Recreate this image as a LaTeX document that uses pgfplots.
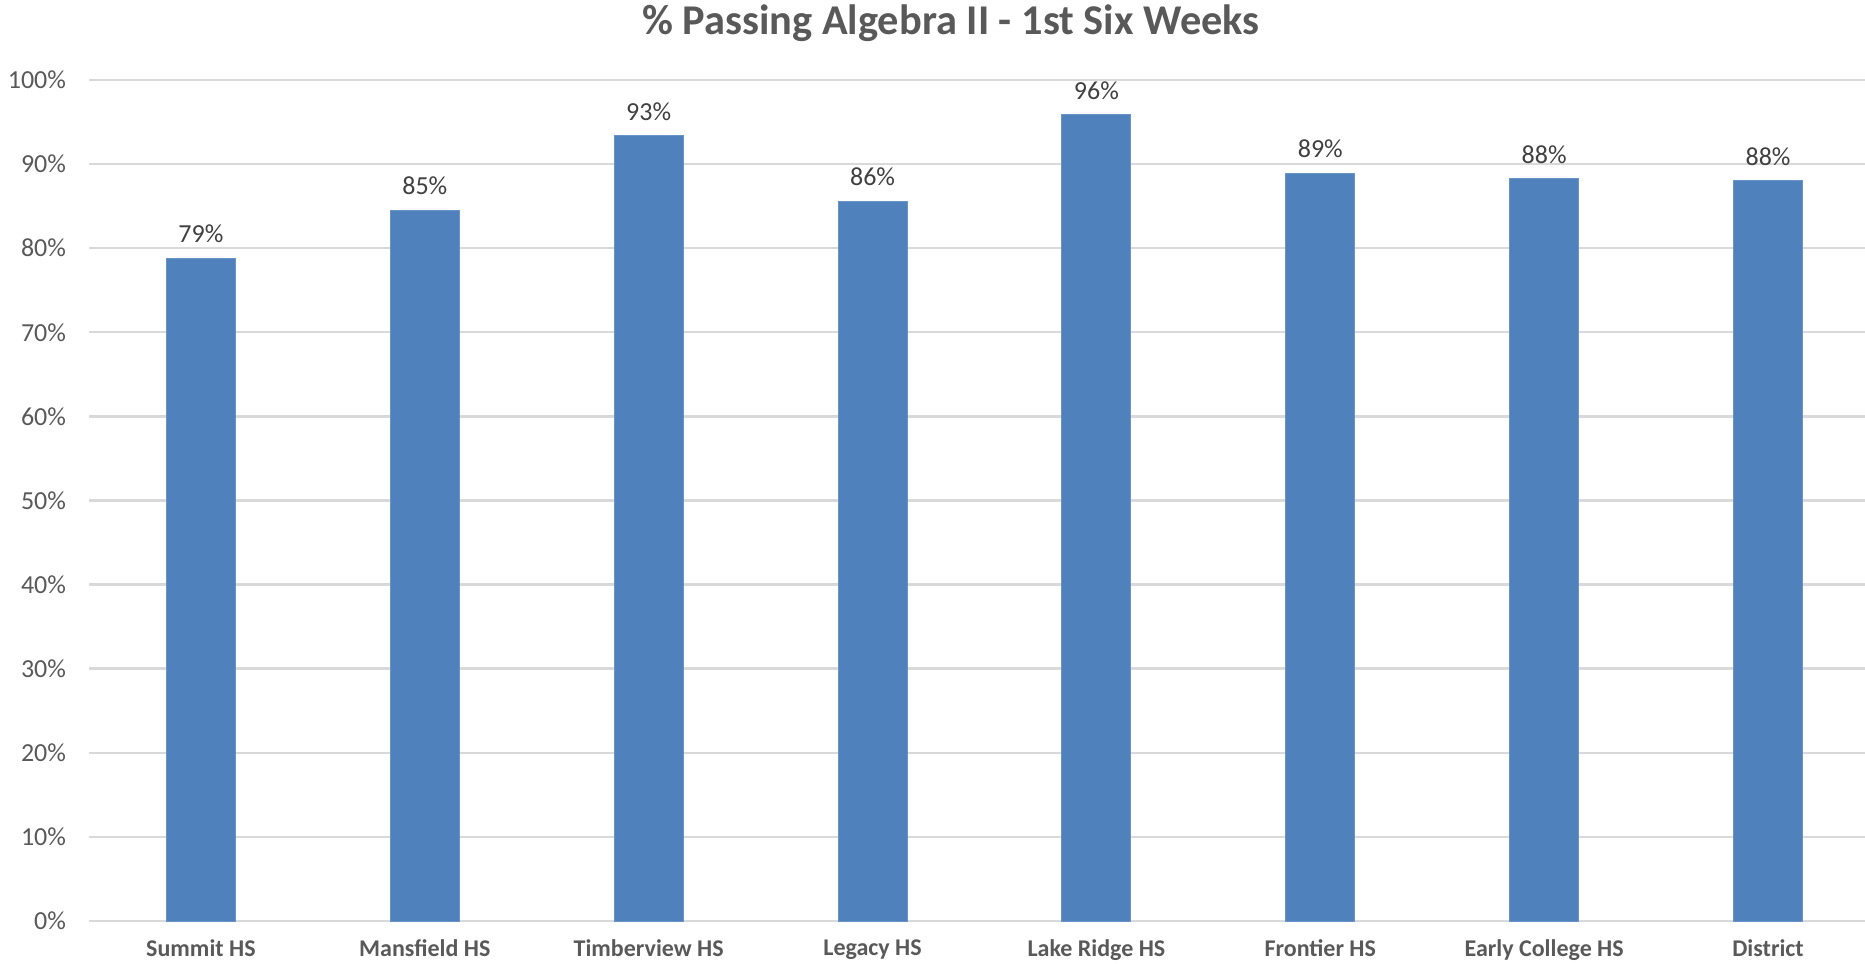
\documentclass[border=0pt]{standalone}
\usepackage{pgfplots}
\pgfplotsset{compat=1.18}
\usepackage{fontspec}
\setmainfont{Carlito}
\definecolor{barblue}{HTML}{4F81BD}
\definecolor{gridgray}{HTML}{D9D9D9}
\definecolor{txtgray}{HTML}{595959}
\definecolor{lblgray}{HTML}{404040}
\begin{document}
\begin{tikzpicture}
\useasboundingbox[clip] (-44.5bp,-21.5bp) rectangle (888bp,460.5bp);
\begin{axis}[
  at={(0,0)}, anchor=south west,
  scale only axis,
  width=895.5bp, height=420.5bp,
  xmin=-0.5, xmax=7.5,
  ymin=0, ymax=100,
  ytick={0,10,...,100},
  xtick={0,...,7},
  xticklabels={Summit HS,Mansfield HS,Timberview HS,Legacy HS,Lake Ridge HS,Frontier HS,Early College HS,District},
  xticklabel style={font=\fontsize{12bp}{14bp}\selectfont\bfseries, text=txtgray, yshift=-6bp},
  yticklabel={\pgfmathprintnumber{\tick}\%},
  yticklabel style={font=\fontsize{13bp}{15bp}\selectfont, text=txtgray, xshift=-8bp},
  /pgf/number format/assume math mode=true,
  major tick length=0pt,
  ymajorgrids,
  grid style={gridgray, line width=1.2bp},
  axis line style={draw=none},
  axis x line*=bottom,
  separate axis lines,
  x axis line style={draw=gridgray, line width=1.2bp},
  ybar, bar width=34.5bp,
  nodes near coords,
  point meta=explicit symbolic,
  every node near coord/.style={font=\fontsize{13bp}{15bp}\selectfont, text=lblgray, anchor=south, yshift=4bp},
  clip=false,
]
\addplot[fill=barblue, draw=barblue!85!white, line width=0.5bp] table[meta=label] {
x y label
0 78.8 79\%
1 84.5 85\%
2 93.4 93\%
3 85.6 86\%
4 95.9 96\%
5 88.9 89\%
6 88.3 88\%
7 88.0 88\%
};
\end{axis}
\node[font=\fontsize{21.2bp}{25bp}\selectfont\bfseries, text=txtgray] at (431bp,449bp) {\% Passing Algebra II - 1st Six Weeks};
\end{tikzpicture}
\end{document}
